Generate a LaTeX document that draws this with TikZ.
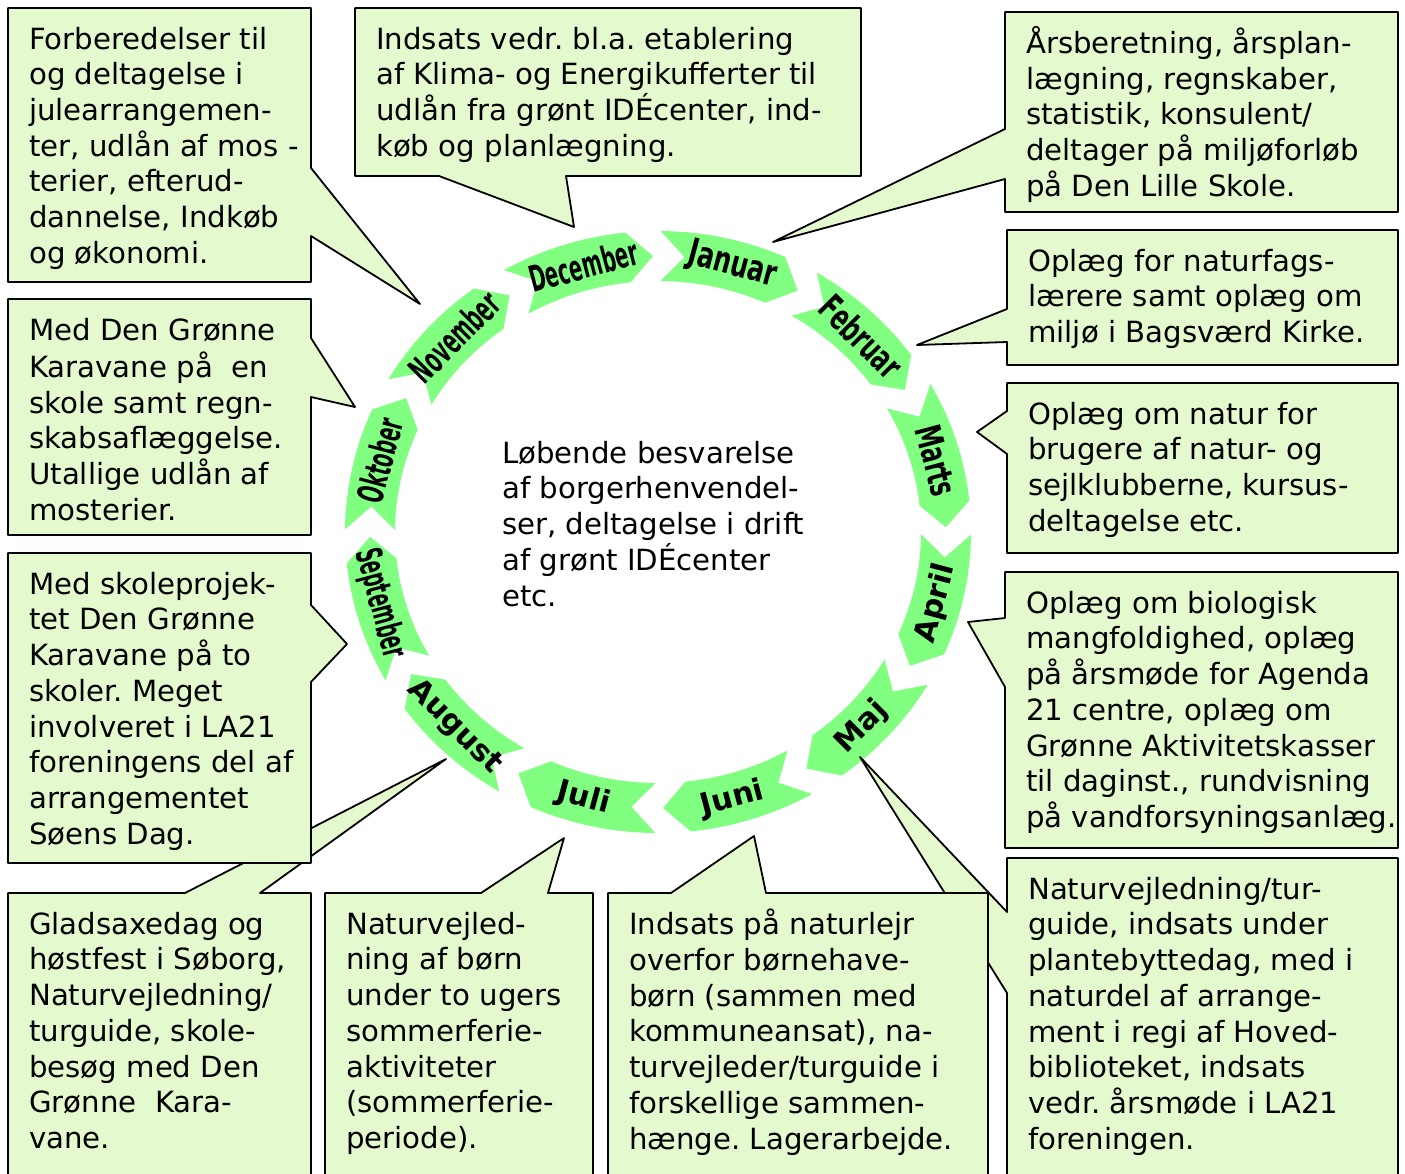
\documentclass[tikz,border=0pt]{standalone}
\usepackage{fontspec}
\usepackage{graphicx}
\setmainfont{DejaVu Sans}
\usetikzlibrary{positioning}
\frenchspacing

\definecolor{ringgreen}{RGB}{128,255,128}
\definecolor{notegreen}{RGB}{229,249,206}
\newcommand{\notefont}{\fontsize{29.2}{35.7}\selectfont}
% one curved month arrow, centred on the given angle, running clockwise
\newcommand{\chevron}[1]{%
  \fill[ringgreen] (#1+14.5:313 and 301)
    arc[start angle=#1+14.5, end angle=#1-9, x radius=313, y radius=301]
    -- (#1-14:288 and 276) -- (#1-9:263 and 251)
    arc[start angle=#1-9, end angle=#1+14.5, x radius=263, y radius=251]
    -- (#1+9.7:288 and 276) -- cycle;}
\tikzset{
  notebox/.style={fill=notegreen, draw=black, line width=1.8pt, line join=round},
  notetext/.style={anchor=north west, inner sep=0pt, align=left, font=\notefont},
  monthlbl/.style={inner sep=0pt, font=\fontsize{30}{36}\selectfont\bfseries},
  narrowlbl/.style={inner sep=0pt, font=\fontsize{36}{40}\selectfont\bfseries}
}

\begin{document}
\begin{tikzpicture}[x=1pt, y=-1pt]
\useasboundingbox (0,0) rectangle (1405,1173);
\clip (0,0) rectangle (1405,1173);

% the year ring
\begin{scope}[shift={(658,532)}, y=1pt]
  \chevron{75} \chevron{45} \chevron{15} \chevron{-15}
  \chevron{-45} \chevron{-75} \chevron{-105} \chevron{-135}
  \chevron{-165} \chevron{165} \chevron{135} \chevron{105}

  \node[narrowlbl, rotate=-15] (jan) at (75:288 and 276) {\scalebox{.69}[1]{Januar}};
  \node[narrowlbl, rotate=-45] (feb) at (45:288 and 276) {\scalebox{.63}[1]{Februar}};
  \node[narrowlbl, rotate=-75] (mar) at (15:288 and 276) {\scalebox{.62}[1]{Marts}};
  \node[monthlbl, rotate=75] (apr) at (-15:288 and 276) {April};
  \node[monthlbl, rotate=45] (maj) at (-45:288 and 276) {Maj};
  \node[monthlbl, rotate=15] (jun) at (-75:288 and 276) {Juni};
  \node[monthlbl, rotate=-15] (jul) at (-105:288 and 276) {Juli};
  \node[monthlbl, rotate=-45] (aug) at (-135:288 and 276) {August};
  \node[narrowlbl, rotate=-75] (sep) at (-165:288 and 276) {\scalebox{.5}[1]{September}};
  \node[narrowlbl, rotate=75] (okt) at (165:288 and 276) {\scalebox{.52}[1]{Oktober}};
  \node[narrowlbl, rotate=45] (nov) at (135:288 and 276) {\scalebox{.53}[1]{November}};
  \node[narrowlbl, rotate=15] (dec) at (105:288 and 276) {\scalebox{.54}[1]{December}};
\end{scope}

\node[notetext] (midtext) at (502,438) {\strut Løbende besvarelse\\af borgerhenvendel-\\ser, deltagelse i drift\\af grønt IDÉcenter\\etc.};

% pointer tips
\coordinate (tipnov) at (420,304);
\coordinate (tipdec) at (574,227);
\coordinate (tipjan) at (773,242);
\coordinate (tipfeb) at (917,345);
\coordinate (tipmar) at (977,432);
\coordinate (tipapr) at (968,622);
\coordinate (tipmaj) at (860,757);
\coordinate (tipjun) at (754,836);
\coordinate (tipjul) at (564,838);
\coordinate (tipaug) at (446,759);
\coordinate (tipsep) at (347,644);
\coordinate (tipokt) at (355,407);

% callouts
\draw[notebox] (8,8) -- (311,8) -- (311,168) -- (tipnov) -- (311,236) -- (311,282) -- (8,282) -- cycle;
\node[notetext] (nnov) at (29,24) {\strut Forberedelser til\\og deltagelse i\\julearrangemen-\\ter, udlån af mos -\\terier, efterud-\\dannelse, Indkøb\\og økonomi.};

\draw[notebox] (355,8) -- (861,8) -- (861,176) -- (566,176) -- (tipdec) -- (439,176) -- (355,176) -- cycle;
\node[notetext] (ndec) at (376,24) {\strut Indsats vedr. bl.a. etablering\\af Klima- og Energikufferter til\\udlån fra grønt IDÉcenter, ind-\\køb og planlægning.};

\draw[notebox] (1005,12) -- (1398,12) -- (1398,212) -- (1005,212) -- (1005,179) -- (tipjan) -- (1005,129) -- cycle;
\node[notetext] (njan) at (1026,26) {\strut Årsberetning, årsplan-\\lægning, regnskaber,\\statistik, konsulent/\\deltager på miljøforløb\\på Den Lille Skole.};

\draw[notebox] (1007,230) -- (1398,230) -- (1398,365) -- (1007,365) -- (1007,342) -- (tipfeb) -- (1007,309) -- cycle;
\node[notetext] (nfeb) at (1028,246) {\strut Oplæg for naturfags-\\lærere samt oplæg om\\miljø i Bagsværd Kirke.};

\draw[notebox] (1007,383) -- (1398,383) -- (1398,553) -- (1007,553) -- (1007,454) -- (tipmar) -- (1007,411) -- cycle;
\node[notetext] (nmar) at (1028,399) {\strut Oplæg om natur for\\brugere af natur- og\\sejlklubberne, kursus-\\deltagelse etc.};

\draw[notebox] (1005,572) -- (1398,572) -- (1398,848) -- (1005,848) -- (1005,687) -- (tipapr) -- (1005,618) -- cycle;
\node[notetext] (napr) at (1026,588) {\strut Oplæg om biologisk\\mangfoldighed, oplæg\\på årsmøde for Agenda\\21 centre, oplæg om\\Grønne Aktivitetskasser\\til daginst., rundvisning\\på vandforsyningsanlæg.};

\draw[notebox] (1007,858) -- (1398,858) -- (1398,1182) -- (1007,1182) -- (1007,993) -- (tipmaj) -- (1007,912) -- cycle;
\node[notetext] (nmaj) at (1028,874) {\strut Naturvejledning/tur-\\guide, indsats under\\plantebyttedag, med i\\naturdel af arrange-\\ment i regi af Hoved-\\biblioteket, indsats\\vedr. årsmøde i LA21\\foreningen.};

\draw[notebox] (608,893) -- (671,893) -- (tipjun) -- (766,893) -- (988,893) -- (988,1190) -- (608,1190) -- cycle;
\node[notetext] (njun) at (629,909) {\strut Indsats på naturlejr\\overfor børnehave-\\børn (sammen med\\kommuneansat), na-\\turvejleder/turguide i\\forskellige sammen-\\hænge. Lagerarbejde.};

\draw[notebox] (325,893) -- (481,893) -- (tipjul) -- (548,893) -- (593,893) -- (593,1190) -- (325,1190) -- cycle;
\node[notetext] (njul) at (346,909) {\strut Naturvejled-\\ning af børn\\under to ugers\\sommerferie-\\aktiviteter\\(sommerferie-\\periode).};

\draw[notebox] (8,893) -- (185,893) -- (tipaug) -- (260,893) -- (311,893) -- (311,1190) -- (8,1190) -- cycle;
\node[notetext] (naug) at (29,909) {\strut Gladsaxedag og\\høstfest i Søborg,\\Naturvejledning/\\turguide, skole-\\besøg med Den\\Grønne\ \ Kara-\\vane.};

\draw[notebox] (8,553) -- (311,553) -- (311,605) -- (tipsep) -- (311,682) -- (311,863) -- (8,863) -- cycle;
\node[notetext] (nsep) at (29,569) {\strut Med skoleprojek-\\tet Den Grønne\\Karavane på to\\skoler. Meget\\involveret i LA21\\foreningens del af\\arrangementet\\Søens Dag.};

\draw[notebox] (8,299) -- (311,299) -- (311,338) -- (tipokt) -- (311,397) -- (311,535) -- (8,535) -- cycle;
\node[notetext] (nokt) at (29,315) {\strut Med Den Grønne\\Karavane på\ \ en\\skole samt regn-\\skabsaflæggelse.\\Utallige udlån af\\mosterier.};
\end{tikzpicture}
\end{document}
